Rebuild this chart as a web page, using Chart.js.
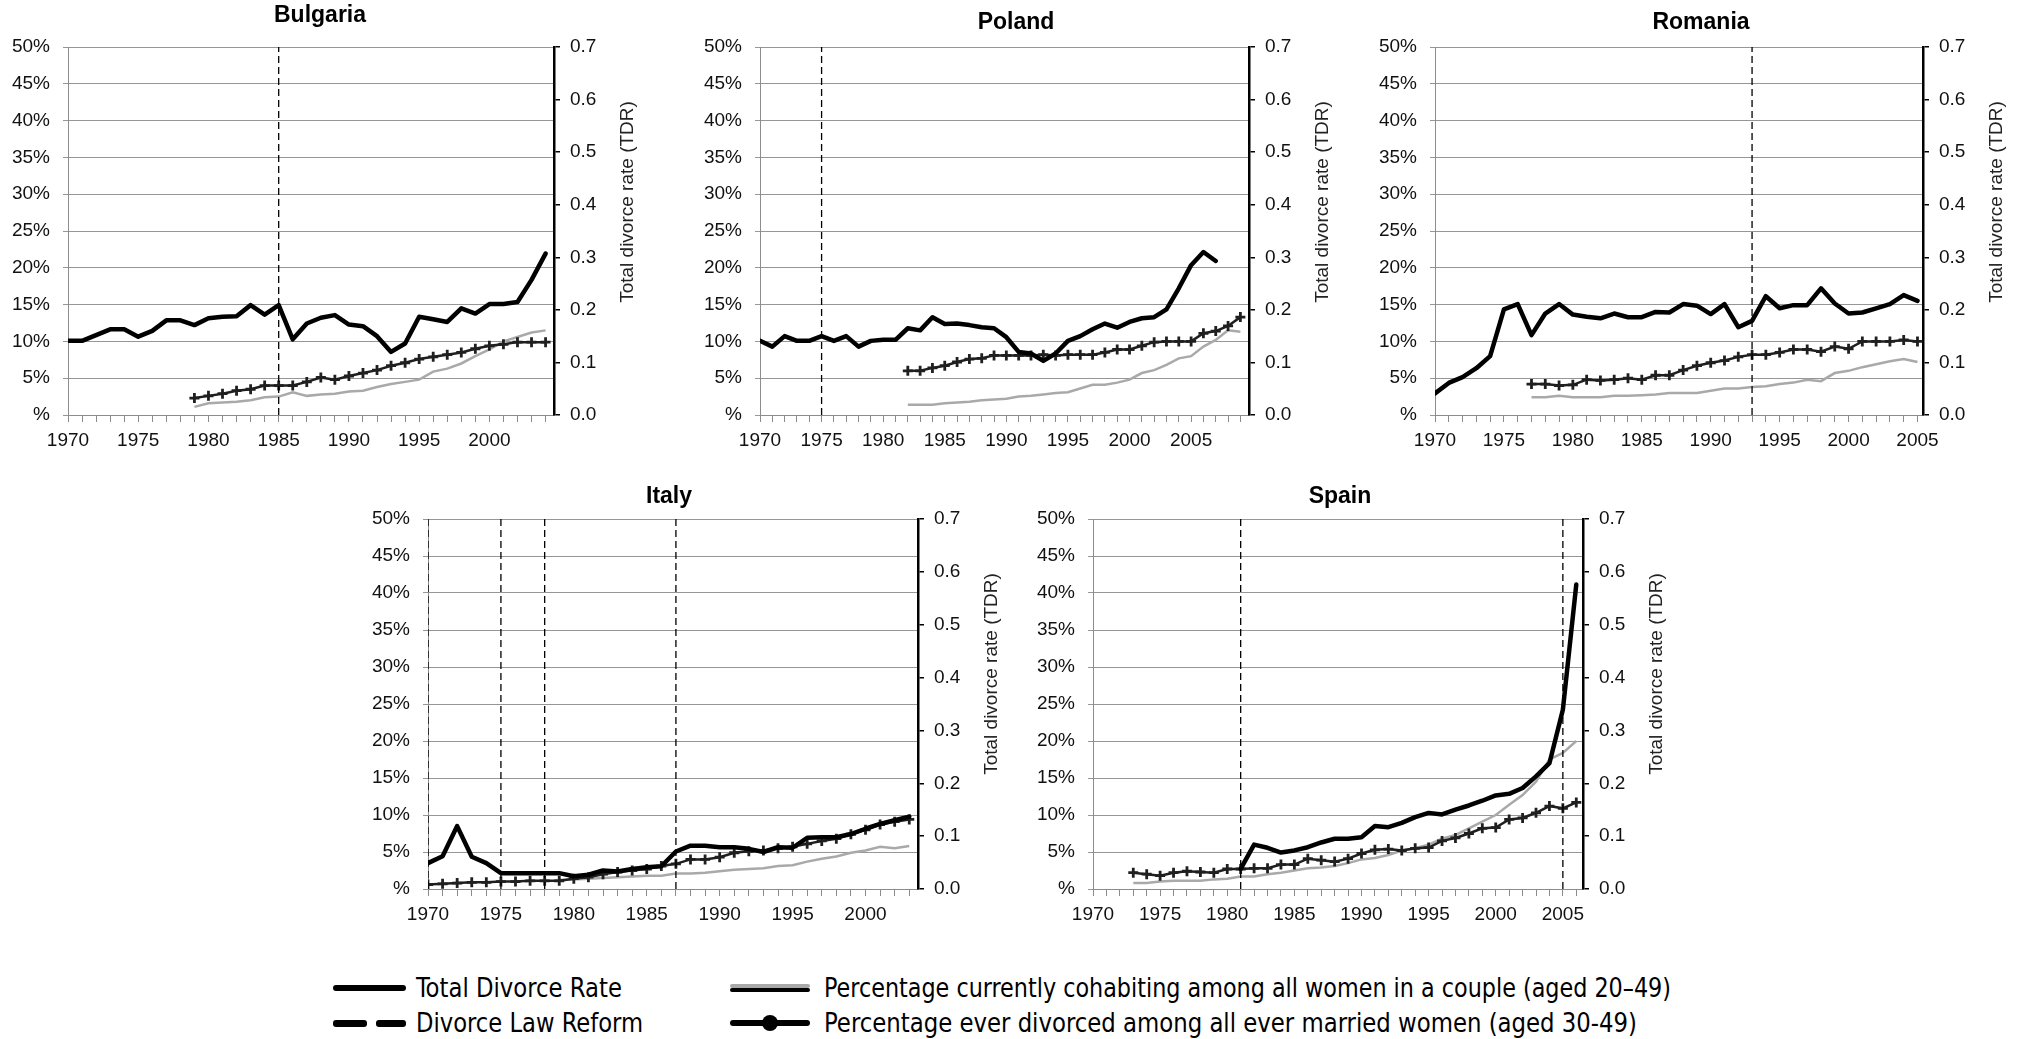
<!DOCTYPE html>
<html>
<head>
<meta charset="utf-8">
<script src="https://cdn.jsdelivr.net/npm/chart.js@4.4.1/dist/chart.umd.min.js"></script>
<style>
body { margin: 0; background: #fff; width: 2026px; height: 1039px; overflow: hidden; position: relative; }
.panel { position: absolute; }
.legend-text { position: absolute; font-family: "Liberation Sans Narrow", "DejaVu Sans Condensed", sans-serif; font-size: 26px; line-height: 26px; color: #000; white-space: nowrap; transform-origin: left center; }
.sym { position: absolute; background: #000; }
</style>
</head>
<body>

<script>
// Years where each series begins (one value per year after that)
const bgTdrStart = 1970, bgEverStart = 1979, bgCohabStart = 1979;
const plTdrStart = 1970, plEverStart = 1982, plCohabStart = 1982;
const roTdrStart = 1970, roEverStart = 1977, roCohabStart = 1977;
const itTdrStart = 1970, itEverStart = 1970, itCohabStart = 1979;
const esTdrStart = 1981, esEverStart = 1973, esCohabStart = 1973;

// Total divorce rate (right axis)
const bgTdr = [0.141,0.141,0.152,0.163,0.163,0.149,0.160,0.180,0.180,0.171,
               0.184,0.187,0.188,0.209,0.191,0.209,0.144,0.174,0.185,0.190,
               0.172,0.169,0.150,0.120,0.136,0.187,0.182,0.177,0.203,0.193,
               0.211,0.211,0.215,0.257,0.307];
const plTdr = [0.141,0.130,0.150,0.141,0.141,0.150,0.141,0.150,0.130,0.141,
               0.143,0.143,0.165,0.161,0.186,0.173,0.174,0.171,0.167,0.165,
               0.148,0.120,0.117,0.103,0.117,0.141,0.150,0.163,0.174,0.166,
               0.177,0.184,0.186,0.201,0.241,0.285,0.310,0.293];
const roTdr = [0.041,0.061,0.072,0.089,0.112,0.201,0.211,0.152,0.193,0.211,
               0.191,0.187,0.184,0.193,0.186,0.186,0.196,0.195,0.211,0.208,
               0.192,0.211,0.167,0.179,0.226,0.203,0.209,0.209,0.241,0.212,
               0.193,0.195,0.203,0.211,0.228,0.217];
const itTdr = [0.049,0.062,0.119,0.061,0.049,0.030,0.030,0.030,0.030,0.030,
               0.024,0.027,0.035,0.033,0.038,0.041,0.043,0.071,0.082,0.082,
               0.079,0.079,0.076,0.070,0.079,0.078,0.097,0.098,0.098,0.104,
               0.114,0.123,0.130,0.137];
const esTdr = [0.038,0.084,0.078,0.069,0.073,0.079,0.088,0.095,0.095,
               0.098,0.119,0.117,0.125,0.136,0.144,0.141,0.150,0.158,0.167,
               0.177,0.180,0.191,0.213,0.238,0.339,0.576];

// Percentage ever divorced among ever married women 30-49 (left axis)
const bgEver = [2.3,2.6,2.9,3.3,3.5,4.0,4.0,4.0,4.5,5.1,4.8,5.3,5.7,6.1,6.7,7.1,
                7.6,7.9,8.2,8.5,9.0,9.4,9.6,9.9,9.9,9.9];
const plEver = [6.0,6.0,6.4,6.7,7.2,7.6,7.7,8.1,8.1,8.1,8.1,8.2,8.1,8.2,8.2,8.2,
                8.5,8.9,8.9,9.4,9.9,10.0,10.0,10.0,11.1,11.4,12.1,13.3];
const roEver = [4.2,4.2,4.0,4.1,4.8,4.7,4.8,5.0,4.8,5.4,5.4,6.1,6.7,7.1,7.4,7.9,
                8.2,8.2,8.5,8.9,8.9,8.6,9.3,9.0,10.0,10.0,10.0,10.2,10.0];
const itEver = [0.6,0.7,0.8,0.9,0.9,1.0,1.0,1.1,1.1,1.1,1.4,1.6,2.0,2.3,2.5,2.7,
                3.1,3.4,4.0,4.0,4.3,4.9,5.1,5.2,5.5,5.7,6.1,6.5,6.8,7.4,8.0,8.7,
                9.1,9.4];
const esEver = [2.2,2.0,1.8,2.2,2.4,2.3,2.2,2.7,2.7,2.8,2.8,3.3,3.3,4.1,3.9,3.7,
                4.1,4.8,5.3,5.4,5.2,5.5,5.6,6.5,6.9,7.5,8.2,8.3,9.4,9.6,10.3,
                11.2,10.9,11.7];

// Percentage currently cohabiting among women in a couple 20-49 (left axis)
const bgCohab = [1.1,1.6,1.7,1.8,2.0,2.4,2.5,3.1,2.6,2.8,2.9,3.2,3.3,3.8,4.2,4.5,
                 4.8,5.9,6.3,7.0,8.0,8.9,10.0,10.6,11.2,11.5];
const plCohab = [1.4,1.4,1.4,1.6,1.7,1.8,2.0,2.1,2.2,2.5,2.6,2.8,3.0,3.1,3.6,4.1,
                 4.1,4.4,4.8,5.7,6.1,6.8,7.7,8.0,9.3,10.2,11.5,11.3];
const roCohab = [2.4,2.4,2.6,2.4,2.4,2.4,2.6,2.6,2.7,2.8,3.0,3.0,3.0,3.3,3.6,3.6,
                 3.8,3.9,4.2,4.4,4.8,4.6,5.7,6.0,6.5,6.9,7.3,7.6,7.2];
const itCohab = [1.2,1.3,1.4,1.5,1.6,1.7,1.8,1.8,2.1,2.1,2.2,2.4,2.6,2.7,2.8,3.1,
                 3.2,3.7,4.1,4.4,4.9,5.2,5.7,5.5,5.8];
const esCohab = [0.8,0.8,1.0,1.1,1.1,1.1,1.3,1.4,1.7,1.7,2.0,2.2,2.5,2.8,2.9,3.1,
                 3.5,4.0,4.2,4.6,5.2,5.5,6.0,6.8,7.3,8.2,9.1,10.0,11.4,12.7,14.5,
                 17.5,18.4,20.0];

// Divorce law reform years
const bgReforms = [1985];
const plReforms = [1975];
const roReforms = [1993];
const itReforms = [1970, 1975, 1978, 1987];
const esReforms = [1981, 2005];

// Axis ranges / ticks
const xMin = 1970;
const pctMax = 50, pctStep = 5;
const tdrMax = 0.7, tdrStep = 0.1;

// Panel placement on the page (plot area in page pixels)
const LEFT_W = 68, RIGHT_W = 100, TOP_PAD = 47, BOTTOM_H = 50;
const FONT = '"Liberation Sans", Arial, sans-serif';

const panels = [
    { name: 'Bulgaria', l: 68,   t: 47,  r: 554,  b: 415, xMax: 2004.6, titleX: 320,  titleY: 16,
      tdr: [bgTdrStart, bgTdr], ever: [bgEverStart, bgEver], cohab: [bgCohabStart, bgCohab], reforms: bgReforms },
    { name: 'Poland',   l: 760,  t: 47,  r: 1249, b: 415, xMax: 2009.7, titleX: 1016, titleY: 23,
      tdr: [plTdrStart, plTdr], ever: [plEverStart, plEver], cohab: [plCohabStart, plCohab], reforms: plReforms },
    { name: 'Romania',  l: 1435, t: 47,  r: 1923, b: 415, xMax: 2005.4, titleX: 1701, titleY: 23,
      tdr: [roTdrStart, roTdr], ever: [roEverStart, roEver], cohab: [roCohabStart, roCohab], reforms: roReforms },
    { name: 'Italy',    l: 428,  t: 519, r: 918,  b: 889, xMax: 2003.6, titleX: 669,  titleY: 497,
      tdr: [itTdrStart, itTdr], ever: [itEverStart, itEver], cohab: [itCohabStart, itCohab], reforms: itReforms },
    { name: 'Spain',    l: 1093, t: 519, r: 1583, b: 889, xMax: 2006.5, titleX: 1340, titleY: 497,
      tdr: [esTdrStart, esTdr], ever: [esEverStart, esEver], cohab: [esCohabStart, esCohab], reforms: esReforms }
];

let toPoints = (start, vals) => vals.map((v, i) => ({ x: start + i, y: v }));

// Title above each panel + rotated title of the right axis
const panelText = {
    id: 'panelText',
    afterDraw(chart, args, opts) {
        let ctx = chart.ctx, a = chart.chartArea;
        ctx.save();
        ctx.fillStyle = '#000';
        ctx.textAlign = 'center';
        ctx.textBaseline = 'middle';
        ctx.font = 'bold 23px ' + FONT;
        ctx.fillText(opts.title, opts.titleX, opts.titleY);
        ctx.translate(a.right + 74, a.top + 155);
        ctx.rotate(-Math.PI / 2);
        ctx.fillStyle = '#222';
        ctx.font = '19px ' + FONT;
        ctx.fillText('Total divorce rate (TDR)', 0, 0);
        ctx.restore();
    }
};

let makePanel = p => {
    let ox = p.l - LEFT_W, oy = p.t - TOP_PAD;
    let div = document.createElement('div');
    div.className = 'panel';
    div.style.left = ox + 'px';
    div.style.top = oy + 'px';
    div.style.width = (p.r - p.l + LEFT_W + RIGHT_W) + 'px';
    div.style.height = (p.b - p.t + TOP_PAD + BOTTOM_H) + 'px';
    let canvas = document.createElement('canvas');
    div.append(canvas);
    document.body.append(div);

    let datasets = [];
    p.reforms.forEach(yr => {
        datasets.push({
            data: [{ x: yr, y: 0 }, { x: yr, y: pctMax }],
            yAxisID: 'y', borderColor: '#000', borderWidth: 1.3, borderDash: [7, 4],
            pointRadius: 0
        });
    });
    datasets.push({
        label: 'Total Divorce Rate', data: toPoints(p.tdr[0], p.tdr[1]), yAxisID: 'y1',
        borderColor: '#000', borderWidth: 4.5, pointRadius: 0, borderJoinStyle: 'round', borderCapStyle: 'round'
    });
    datasets.push({
        label: 'Ever divorced', data: toPoints(p.ever[0], p.ever[1]), yAxisID: 'y',
        borderColor: '#1f1f1f', borderWidth: 2.5, pointStyle: 'cross', pointRadius: 5,
        pointBorderWidth: 2.8, pointBorderColor: '#1f1f1f', pointBackgroundColor: '#1f1f1f'
    });
    datasets.push({
        label: 'Cohabiting', data: toPoints(p.cohab[0], p.cohab[1]), yAxisID: 'y',
        borderColor: '#a9a9a9', borderWidth: 2.5, pointRadius: 0
    });

    new Chart(canvas.getContext('2d'), {
        type: 'line',
        data: { datasets: datasets },
        options: {
            responsive: true,
            maintainAspectRatio: false,
            animation: false,
            events: [],
            layout: { padding: { top: TOP_PAD, left: 0, right: 0, bottom: 0 } },
            plugins: {
                legend: { display: false },
                tooltip: { enabled: false },
                panelText: { title: p.name, titleX: p.titleX - ox, titleY: p.titleY - oy }
            },
            scales: {
                x: {
                    type: 'linear', min: xMin, max: p.xMax,
                    ticks: {
                        stepSize: 1, autoSkip: false, includeBounds: false, maxRotation: 0, minRotation: 0,
                        padding: 7, color: '#111', font: { family: FONT, size: 19 },
                        callback: v => (v % 5 == 0 ? String(v) : '')
                    },
                    grid: { drawOnChartArea: false, drawTicks: true, tickLength: 7, color: '#8c8c8c' },
                    border: { color: '#8c8c8c', width: 1 },
                    afterFit: s => { s.height = BOTTOM_H; }
                },
                y: {
                    position: 'left', min: 0, max: pctMax,
                    ticks: {
                        stepSize: pctStep, padding: 13, color: '#111', font: { family: FONT, size: 19 },
                        callback: v => (v == 0 ? '%' : v + '%')
                    },
                    grid: { color: '#969696', tickLength: 5, lineWidth: 1 },
                    border: { color: '#8c8c8c', width: 1 },
                    afterFit: s => { s.width = LEFT_W; }
                },
                y1: {
                    position: 'right', min: 0, max: tdrMax,
                    ticks: {
                        stepSize: tdrStep, padding: 10, color: '#111', font: { family: FONT, size: 19 },
                        callback: v => v.toFixed(1)
                    },
                    grid: { drawOnChartArea: false, color: '#000', tickLength: 6, lineWidth: 1.5 },
                    border: { color: '#000', width: 2.5 },
                    afterFit: s => { s.width = RIGHT_W; }
                }
            }
        },
        plugins: [panelText]
    });
};

panels.forEach(makePanel);

// Legend (text as real page text, symbols as plain boxes)
let addBox = (l, t, w, h, col, rad) => {
    let d = document.createElement('div');
    d.className = 'sym';
    d.style.left = l + 'px'; d.style.top = t + 'px';
    d.style.width = w + 'px'; d.style.height = h + 'px';
    d.style.background = col;
    d.style.borderRadius = (rad || 0) + 'px';
    document.body.append(d);
};
let addText = (txt, l, cy, w) => {
    let s = document.createElement('span');
    s.className = 'legend-text';
    s.textContent = txt;
    s.style.left = l + 'px';
    s.style.top = (cy - 13) + 'px';
    document.body.append(s);
    let actual = s.getBoundingClientRect().width;
    s.style.transform = 'scaleX(' + (w / actual) + ')';
};

const row1 = 988, row2 = 1023;
addBox(333, row1 - 3, 73, 6, '#000', 3);
addBox(333, row2 - 3.5, 34, 7, '#000', 3);
addBox(376, row2 - 3.5, 30, 7, '#000', 3);
addBox(730, row1 - 4, 80, 4, '#a9a9a9', 2);
addBox(730, row1, 80, 4, '#000', 2);
addBox(730, row2 - 3, 80, 6, '#000', 3);
addBox(762, row2 - 8, 16, 16, '#000', 8);

addText('Total Divorce Rate', 416, row1, 206);
addText('Divorce Law Reform', 416, row2, 227);
addText('Percentage currently cohabiting among all women in a couple (aged 20\u201349)', 824, row1, 847);
addText('Percentage ever divorced among all ever married women (aged 30-49)', 824, row2, 813);
</script>
</body>
</html>
